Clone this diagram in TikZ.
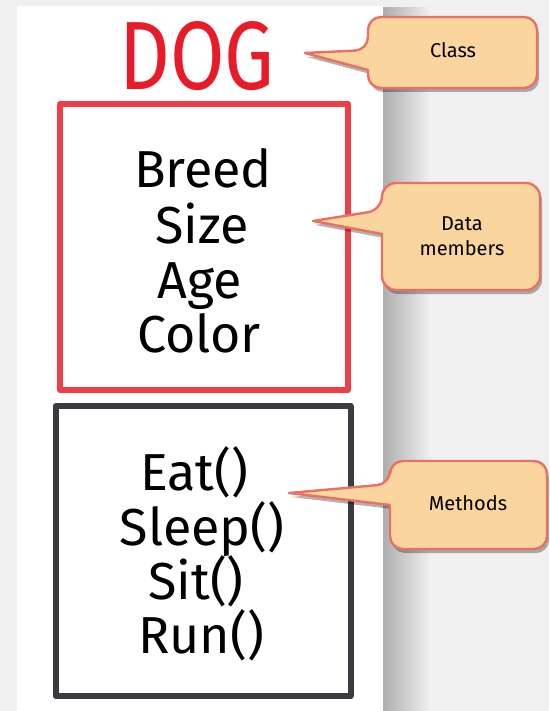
\documentclass[tikz,border=0pt]{standalone}
\usepackage{fontspec}
\setmainfont{Fira Sans}
\usetikzlibrary{shadows}
\definecolor{bg}{RGB}{240,240,240}
\definecolor{dogred}{RGB}{232,28,40}
\definecolor{boxred}{RGB}{238,62,72}
\definecolor{boxdark}{RGB}{58,60,66}
\definecolor{callfill}{RGB}{250,214,158}
\definecolor{callline}{RGB}{232,112,100}
\begin{document}
\begin{tikzpicture}[x=1pt,y=-1pt,
  member/.style={anchor=base, text=black, font=\fontsize{52}{52}\selectfont},
  classbox/.style={draw, line width=6pt, line join=round, minimum width=#1, inner sep=0pt},
  callout/.style={fill=callfill, draw=callline, line width=2.4pt, line join=round,
    drop shadow={shadow xshift=2pt, shadow yshift=-4pt, opacity=0.3, fill=black}},
  calltext/.style={font=\fontsize{20}{25}\selectfont, align=center, text=black}
]
\useasboundingbox (0,0) rectangle (549,711);
\fill[bg] (0,0) rectangle (549,711);
\shade[left color=black!32, right color=bg] (383,8) rectangle (430,711);
\fill[white] (17,6) rectangle (383,711);

% class name
\node[text=dogred, inner sep=0pt] (dog) at (197,56) {\resizebox{155pt}{68pt}{DOG}};

% boxes
\node[classbox=288pt, draw=boxred, minimum height=286pt] (attrs) at (204,247) {};
\node[classbox=295pt, draw=boxdark, minimum height=290pt] (meths) at (203,551) {};

% data members
\node[member] (breed) at (203,188) {Breed};
\node[member] (size)  at (202,243) {Size};
\node[member] (age)   at (200,298) {Age};
\node[member] (color) at (199,352) {Color};

% methods
\node[member] (eat)   at (194,490) {Eat()};
\node[member] (sleep) at (202,545) {Sleep()};
\node[member] (sit)   at (196,599) {Sit()};
\node[member] (run)   at (201,653) {Run()};

% callout tips
\coordinate (tipclass) at (305,53);
\coordinate (tipdata) at (313,221);
\coordinate (tipmeth) at (289,493);

% callouts
\path[callout] (tipclass) -- (368,70) [rounded corners=13pt] -- (368,88) -- (537,88) -- (537,17) -- (368,17) -- (368,50) [sharp corners] -- cycle;
\node[calltext] (lclass) at (453,50) {Class};

\path[callout] (tipdata) -- (382,234) [rounded corners=14pt] -- (382,290) -- (540,290) -- (540,183) -- (382,183) -- (382,210) [sharp corners] -- cycle;
\node[calltext] (ldata) at (462,236) {Data\\members};

\path[callout] (tipmeth) -- (390,505) [rounded corners=13pt] -- (390,549) -- (547,549) -- (547,461) -- (390,461) -- (390,484) [sharp corners] -- cycle;
\node[calltext] (lmeth) at (468,503) {Methods};
\end{tikzpicture}
\end{document}
